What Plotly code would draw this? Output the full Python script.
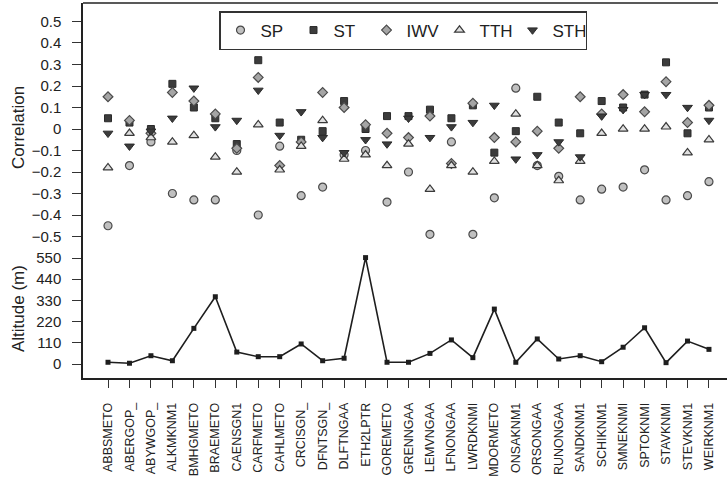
import plotly.graph_objects as go

# Stations along the x axis
stations = [
    "ABBSMETO", "ABERGOP_", "ABYWGOP_", "ALKMKNM1", "BMHGMETO", "BRAEMETO",
    "CAENSGN1", "CARFMETO", "CAHLMETO", "CRCISGN_", "DFNTSGN_", "DLFTNGAA",
    "ETH2LPTR", "GOREMETO", "GRENNGAA", "LEMVNGAA", "LFNONGAA", "LWRDKNMI",
    "MDORMETO", "ONSAKNM1", "ORSONGAA", "RUNONGAA", "SANDKNM1", "SCHIKNM1",
    "SMNEKNMI", "SPTOKNMI", "STAVKNMI", "STEVKNM1", "WEIRKNM1",
]

# Correlation of each parameter per station
sp = [-0.45, -0.17, -0.06, -0.30, -0.33, -0.33, -0.10, -0.40, -0.08, -0.31,
      -0.27, -0.12, -0.10, -0.34, -0.20, -0.49, -0.06, -0.49, -0.32, 0.19,
      -0.17, -0.22, -0.33, -0.28, -0.27, -0.19, -0.33, -0.31, -0.245]
st = [0.05, 0.03, 0.00, 0.21, 0.10, 0.05, -0.07, 0.32, 0.03, -0.05,
      -0.01, 0.13, 0.00, 0.06, 0.06, 0.09, 0.05, 0.11, -0.11, -0.01,
      0.15, 0.03, -0.02, 0.13, 0.10, 0.16, 0.31, -0.02, 0.10]
iwv = [0.15, 0.04, -0.02, 0.17, 0.13, 0.07, -0.09, 0.24, -0.17, -0.06,
       0.17, 0.10, 0.02, -0.02, -0.04, 0.06, -0.16, 0.12, -0.04, -0.06,
       -0.01, -0.09, 0.15, 0.07, 0.16, 0.08, 0.22, 0.03, 0.11]
tth = [-0.18, -0.02, -0.04, -0.06, -0.03, -0.13, -0.20, 0.02, -0.19, -0.08,
       0.04, -0.14, -0.12, -0.17, -0.07, -0.28, -0.17, -0.20, -0.15, 0.07,
       -0.17, -0.24, -0.15, -0.02, 0.00, 0.00, 0.01, -0.11, -0.05]
sth = [-0.02, -0.08, -0.01, 0.05, 0.19, 0.01, 0.04, 0.18, -0.03, 0.08,
       -0.04, -0.11, -0.05, -0.07, 0.05, -0.04, 0.01, 0.03, 0.11, -0.14,
       -0.12, -0.06, -0.13, 0.06, 0.09, 0.16, 0.16, 0.10, 0.04]

# Station altitude in metres
altitude = [9, 4, 43, 17, 185, 349, 62, 38, 38, 104, 17, 30, 552, 9, 9, 55,
            125, 33, 285, 9, 130, 26, 43, 12, 87, 188, 7, 119, 76]

series = [
    ("SP", sp, dict(symbol="circle", size=8, color="#c0c0c0",
                    line=dict(color="#4a4a4a", width=1.2))),
    ("ST", st, dict(symbol="square", size=7, color="#3c3c3c",
                    line=dict(color="#2a2a2a", width=1))),
    ("IWV", iwv, dict(symbol="diamond", size=7.5, color="#a5a5a5",
                      line=dict(color="#4a4a4a", width=1.2))),
    ("TTH", tth, dict(symbol="triangle-up", size=8.5, color="#e0e0e0",
                      line=dict(color="#3a3a3a", width=1.2))),
    ("STH", sth, dict(symbol="triangle-down", size=8.5, color="#3c3c3c",
                      line=dict(color="#2a2a2a", width=1))),
]

fig = go.Figure()
for name, vals, mk in series:
    fig.add_trace(go.Scatter(
        x=stations, y=vals, mode="markers", name=name, marker=mk,
        xaxis="x", yaxis="y",
    ))

fig.add_trace(go.Scatter(
    x=stations, y=altitude, mode="lines+markers", showlegend=False,
    line=dict(color="#1e1e1e", width=1.6),
    marker=dict(symbol="square", size=5, color="#1e1e1e"),
    xaxis="x", yaxis="y2",
))

axis_font = dict(family="Liberation Sans, Arial, sans-serif", size=15, color="#222")
split = (378 - 245) / 375

fig.update_layout(
    width=727, height=480,
    margin=dict(l=83, r=0, t=3, b=102),
    paper_bgcolor="white", plot_bgcolor="white",
    font=axis_font,
    xaxis=dict(
        type="category", range=[-1.165, 28.84], domain=[0, 1], anchor="y2",
        showgrid=False, zeroline=False, showline=True, linecolor="#222",
        linewidth=1.5, ticks="outside", ticklen=8, tickwidth=1.2,
        tickcolor="#333", tickangle=-90, ticklabelstandoff=10,
        tickfont=dict(family="Liberation Sans, Arial, sans-serif", size=12.5,
                      color="#222"),
    ),
    yaxis=dict(
        domain=[split, 1], range=[-0.5395, 0.586], tick0=0, dtick=0.1,
        showgrid=False, zeroline=False, showline=True, linecolor="#222",
        linewidth=1.5, ticks="outside", ticklen=9, tickwidth=1.2,
        tickcolor="#333", ticklabelstandoff=8, tickfont=axis_font,
    ),
    yaxis2=dict(
        domain=[0, split], range=[-72.6, 617.5], tick0=0, dtick=110,
        showgrid=False, zeroline=False, showline=True, linecolor="#222",
        linewidth=1.5, ticks="outside", ticklen=9, tickwidth=1.2,
        tickcolor="#333", ticklabelstandoff=8, tickfont=axis_font,
    ),
    legend=dict(
        orientation="h", x=(219 - 83) / 644, xanchor="left",
        y=(378 - 11) / 375, yanchor="top",
        bordercolor="#333", borderwidth=1.5, bgcolor="white",
        font=dict(family="Liberation Sans, Arial, sans-serif", size=17,
                  color="#222"),
        entrywidth=28, entrywidthmode="pixels",
    ),
    shapes=[dict(type="line", xref="paper", yref="paper", x0=0, x1=0.986,
                 y0=1, y1=1, line=dict(color="#222", width=1.5))],
    annotations=[
        dict(text="Correlation", xref="paper", yref="paper",
             x=(18 - 83) / 644, y=(378 - 128) / 375, xanchor="center",
             yanchor="middle", textangle=-90, showarrow=False,
             font=dict(family="Liberation Sans, Arial, sans-serif", size=17,
                       color="#222")),
        dict(text="Altitude (m)", xref="paper", yref="paper",
             x=(18 - 83) / 644, y=(378 - 309) / 375, xanchor="center",
             yanchor="middle", textangle=-90, showarrow=False,
             font=dict(family="Liberation Sans, Arial, sans-serif", size=17,
                       color="#222")),
    ],
)

fig.write_html("out.html")
